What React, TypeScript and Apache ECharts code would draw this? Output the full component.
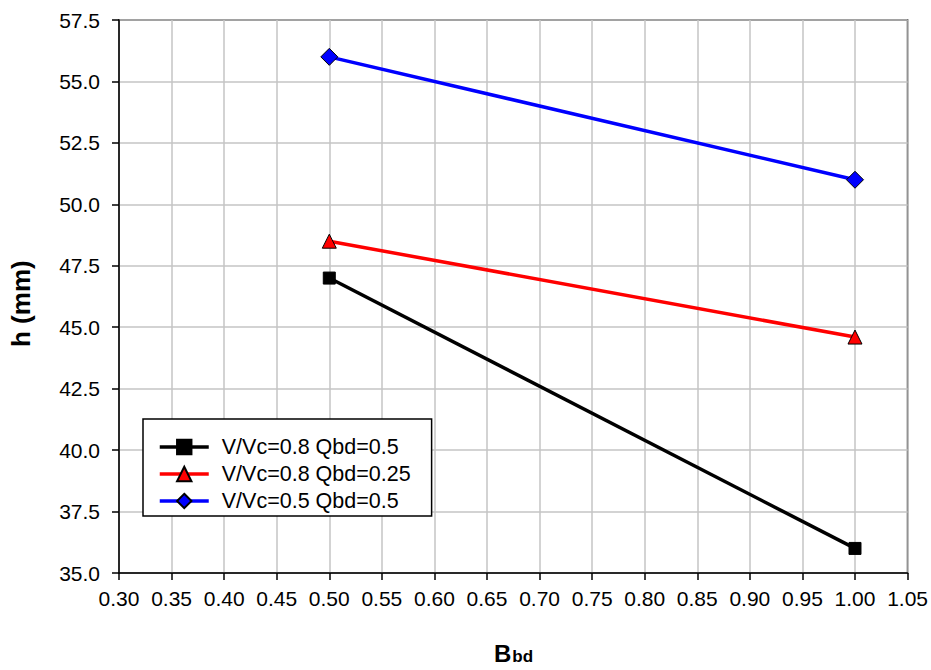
import React, { useEffect, useRef } from "react";
import * as echarts from "echarts";

const xValues = [0.5, 1.0];
const seriesNames = ["V/Vc=0.8 Qbd=0.5", "V/Vc=0.8 Qbd=0.25", "V/Vc=0.5 Qbd=0.5"];
const blackValues = [47.0, 36.0];
const redValues = [48.5, 44.6];
const blueValues = [56.0, 51.0];

export default function App() {
  const ref = useRef<HTMLDivElement>(null);
  useEffect(() => {
    if (!ref.current) return;
    const chart = echarts.init(ref.current, null, { renderer: "svg" });
    const font = "Liberation Sans, Arial, sans-serif";
    const mk = (vals: number[]) => xValues.map((x, i) => [x, vals[i]]);
    chart.setOption({
      animation: false,
      backgroundColor: "#fff",
      grid: { left: 119, top: 20, width: 789, height: 553, show: true, borderColor: "#000", borderWidth: 1.5 },
      xAxis: {
        type: "value",
        min: 0.3,
        max: 1.05,
        interval: 0.05,
        axisLine: { lineStyle: { color: "#000", width: 1.5 } },
        axisTick: { show: true, inside: false, length: 7, lineStyle: { color: "#000", width: 1.5 } },
        axisLabel: { color: "#000", fontSize: 21, fontFamily: font, margin: 15, formatter: (v: number) => v.toFixed(2) },
        splitLine: { show: true, lineStyle: { color: "#c4c4c4", width: 1.5 } },
      },
      yAxis: {
        type: "value",
        min: 35,
        max: 57.5,
        interval: 2.5,
        axisLine: { show: true, lineStyle: { color: "#000", width: 1.5 } },
        axisTick: { show: true, inside: false, length: 7, lineStyle: { color: "#000", width: 1.5 } },
        axisLabel: { color: "#000", fontSize: 21, fontFamily: font, margin: 19, formatter: (v: number) => v.toFixed(1) },
        splitLine: { show: true, lineStyle: { color: "#c4c4c4", width: 1.5 } },
      },
      legend: {
        orient: "vertical",
        left: 143,
        top: 419,
        backgroundColor: "#fff",
        borderColor: "#000",
        borderWidth: 1.5,
        borderRadius: 0,
        padding: [17, 21, 4, 15],
        itemGap: 5,
        itemWidth: 49,
        itemHeight: 18,
        lineStyle: { width: 3.5 },
        textStyle: { color: "#000", fontSize: 21.5, fontFamily: font, lineHeight: 22, padding: [0, 0, 0, 8] },
        data: seriesNames,
      },
      graphic: [
        {
          type: "text",
          x: 8,
          y: 347,
          rotation: Math.PI / 2,
          style: { text: "h (mm)", fontSize: 26, fontWeight: "bold", fontFamily: font, fill: "#000" },
        },
        {
          type: "text",
          x: 494,
          y: 638,
          style: {
            text: "{b|B}{s|bd}",
            fontFamily: font,
            rich: {
              b: { fontSize: 24, fontWeight: "bold", fontFamily: font, color: "#000", verticalAlign: "bottom" },
              s: { fontSize: 17, fontWeight: "bold", fontFamily: font, color: "#000", padding: [10, 0, 0, 1], verticalAlign: "bottom" },
            },
          },
        },
      ],
      series: [
        {
          name: seriesNames[0],
          type: "line",
          data: mk(blackValues),
          lineStyle: { color: "#000", width: 3.5 },
          itemStyle: { color: "#000", borderColor: "#000", borderWidth: 1 },
          symbol: "rect",
          symbolSize: 12,
        },
        {
          name: seriesNames[1],
          type: "line",
          data: mk(redValues),
          lineStyle: { color: "#ff0000", width: 3.5 },
          itemStyle: { color: "#ff0000", borderColor: "#000", borderWidth: 1 },
          symbol: "triangle",
          symbolSize: 14,
        },
        {
          name: seriesNames[2],
          type: "line",
          data: mk(blueValues),
          lineStyle: { color: "#0000ff", width: 3.5 },
          itemStyle: { color: "#0000ff", borderColor: "#000", borderWidth: 1 },
          symbol: "diamond",
          symbolSize: 17,
        },
      ],
    });
    return () => chart.dispose();
  }, []);
  return <div ref={ref} style={{ position: "fixed", left: 0, top: 0, width: 931, height: 670 }} />;
}
